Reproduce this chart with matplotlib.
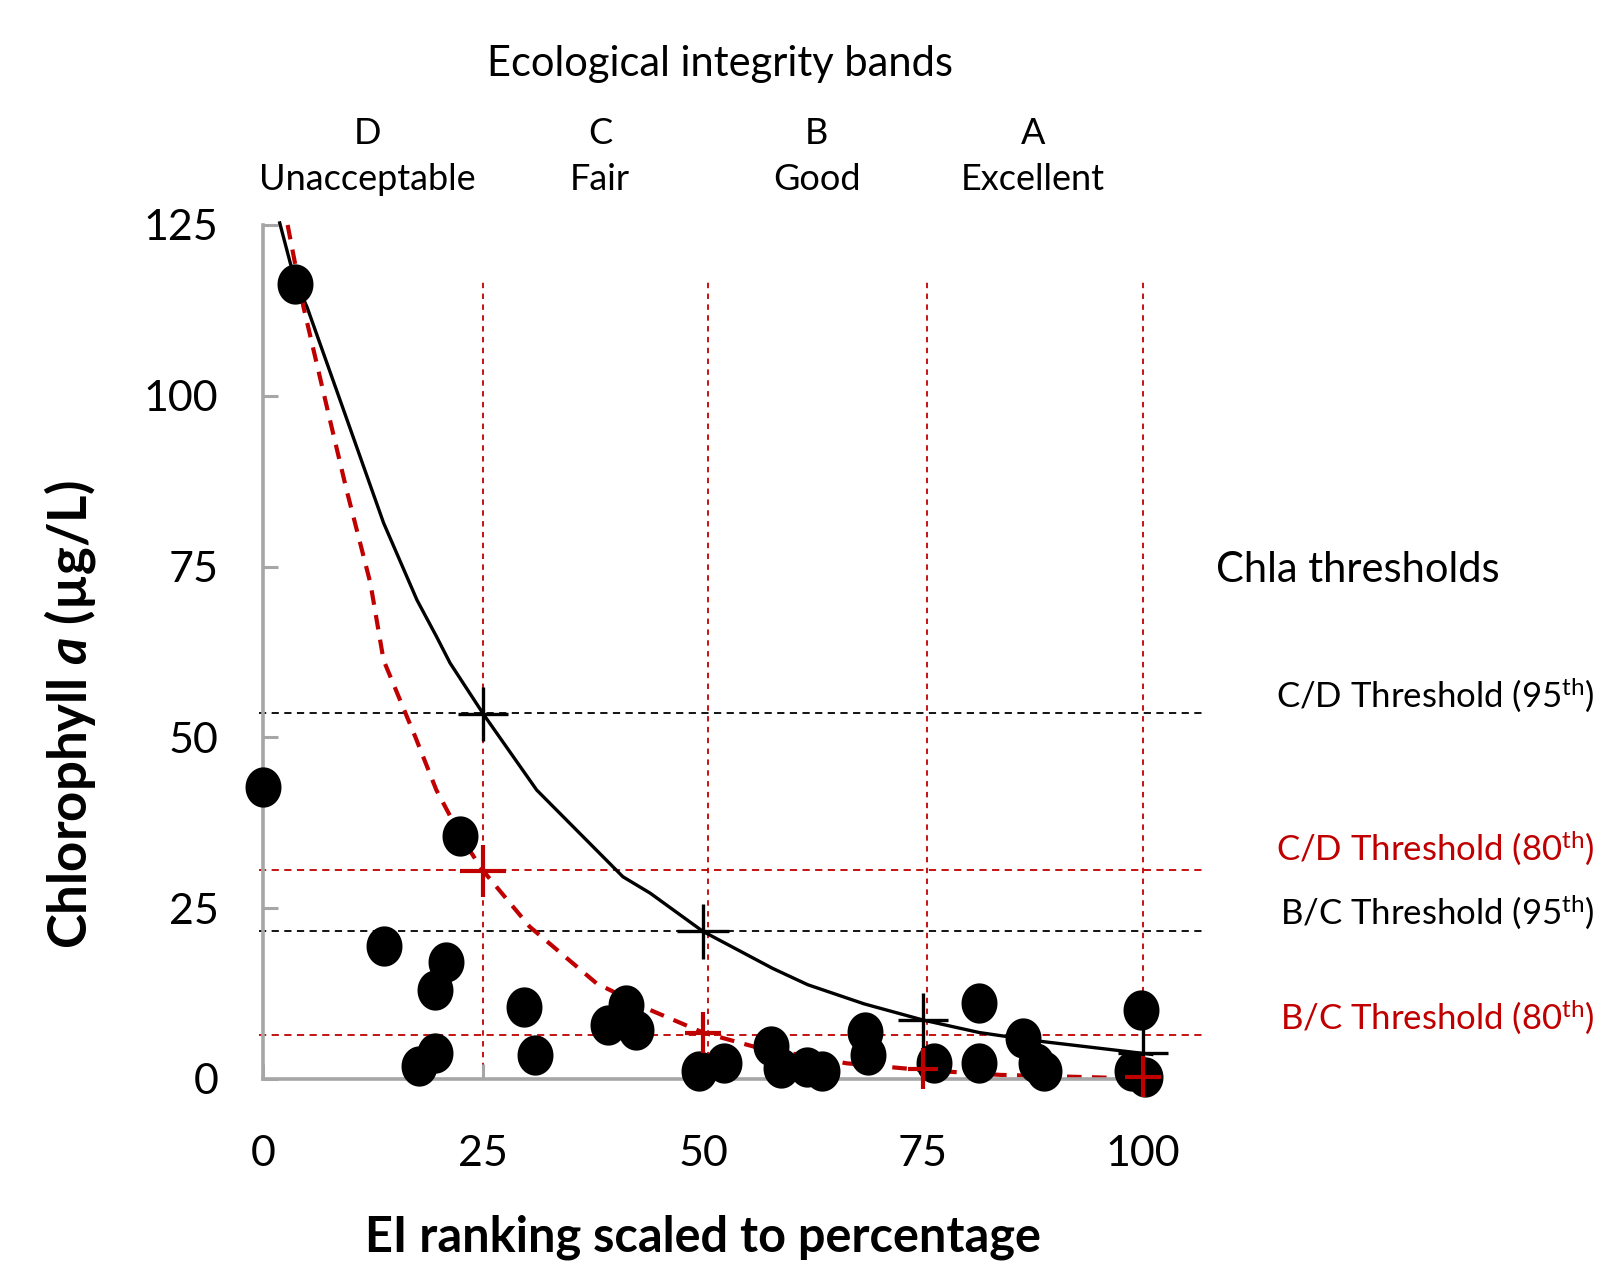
import matplotlib
matplotlib.use("Agg")
import matplotlib.pyplot as plt
import matplotlib.transforms as mtransforms
import numpy as np
from matplotlib.path import Path

# ────────── Data ──────────
# individual sites: EI ranking (%) vs chlorophyll a
ei_pct = [3.6, 0.0, 22.4, 13.8, 20.8, 19.5, 17.7, 19.5, 29.7, 30.9,
          41.2, 39.2, 42.4, 49.5, 52.4, 57.7, 58.9, 61.8, 63.5, 68.4,
          68.7, 76.3, 81.4, 81.4, 86.4, 87.8, 88.8, 99.8, 98.8, 100.2]
chla = [116.4, 42.7, 35.5, 19.5, 17.1, 13.1, 1.9, 3.8, 10.5, 3.5,
        10.8, 7.9, 7.1, 1.1, 2.3, 4.8, 1.6, 1.8, 1.1, 6.9,
        3.5, 2.3, 11.1, 2.3, 6.0, 2.3, 1.1, 10.1, 1.1, 0.3]

# 95th percentile curve
q95_x = [1.9, 3.6, 5.0, 8.75, 13.7, 17.5, 19.7, 21.25, 25.1, 31.1,
         40.9, 44.0, 50.0, 57.9, 61.9, 68.3, 75.1, 81.4, 87.8, 99.0, 101.0]
q95_y = [125.3, 117.0, 113.0, 99.4, 81.4, 70.1, 64.8, 60.9, 53.3, 42.3,
         29.6, 27.2, 21.6, 16.2, 13.8, 11.0, 8.6, 6.8, 5.6, 3.9, 3.6]

# 80th percentile curve
q80_x = [2.8, 4.6, 7.6, 9.5, 12.2, 13.7, 17.3, 19.7, 22.7, 25.0,
         30.3, 37.9, 44.0, 50.0, 55.9, 66.3, 75.1, 83.8, 95.8, 100.0, 101.5]
q80_y = [125.0, 113.0, 96.5, 86.2, 72.6, 61.3, 50.1, 42.3, 35.0, 30.5,
         22.3, 14.0, 10.1, 6.8, 4.7, 2.3, 1.3, 0.6, 0.2, 0.0, 0.0]

# threshold crosses
t95_x = [25.0, 50.0, 75.0, 100.0]
t95_y = [53.4, 21.6, 8.6, 3.8]
t95_xerr = [2.8, 2.9, 2.8, 2.8]
t95_yerr = [4.0, 4.0, 4.0, 4.0]

t80_x = [25.0, 50.0, 75.0, 100.0]
t80_y = [30.5, 6.8, 1.5, 0.3]
t80_xerr = [2.6, 2.0, 1.7, 2.0]
t80_yerr = [3.8, 3.0, 3.0, 3.0]

# threshold lines
hline_levels = [53.5, 30.6, 21.6, 6.5]
band_edges = [25.0, 50.6, 75.4, 100.0]
band_letters = ["D", "C", "B", "A"]
band_names = ["Unacceptable", "Fair", "Good", "Excellent"]
band_mid = [11.9, 38.3, 62.9, 87.5]

thr_labels = ["C/D Threshold (95$^{\\mathrm{th}}$)",
              "C/D Threshold (80$^{\\mathrm{th}}$)",
              "B/C Threshold (95$^{\\mathrm{th}}$)",
              "B/C Threshold (80$^{\\mathrm{th}}$)"]

RED = "#c00000"
GREY = "#a6a6a6"
line_colors = ["black", RED, "black", RED]

# ────────── Fonts ──────────
plt.rcParams["font.family"] = ["Lato", "DejaVu Sans"]
plt.rcParams["mathtext.fontset"] = "custom"
plt.rcParams["mathtext.rm"] = "Lato"
plt.rcParams["mathtext.it"] = "Lato:italic:bold"
plt.rcParams["mathtext.bf"] = "Lato:bold"

W, H = 1603, 1266
fig = plt.figure(figsize=(W / 100, H / 100), dpi=100)
ax = fig.add_axes([263 / W, 1 - 1079 / H, (1143 - 263) / W, (1079 - 225) / H])
ax.set_xlim(0, 100)
ax.set_ylim(0, 125)

# ────────── Guide lines ──────────
for lvl, c in zip(hline_levels, line_colors):
    ax.plot([-0.5, 107], [lvl, lvl], color=c, lw=1.3, ls=(0, (4, 3)),
            clip_on=False, zorder=1)
for e in band_edges:
    ax.plot([e, e], [0, 117], color=RED, lw=1.3, ls=(0, (3, 3)),
            clip_on=False, zorder=1)

# ────────── Curves ──────────
ax.plot(q95_x, q95_y, color="black", lw=2.4, clip_on=False, zorder=2)
ax.plot(q80_x, q80_y, color=RED, lw=3.0, ls=(0, (3.5, 2.5)),
        clip_on=False, zorder=2)

ax.errorbar(t95_x, t95_y, xerr=t95_xerr, yerr=t95_yerr, fmt="none",
            ecolor="black", elinewidth=2.4, capsize=0, clip_on=False, zorder=3)

# ────────── Points (slightly tall ellipses) ──────────
th = np.linspace(0, 2 * np.pi, 60)
ell = Path(np.column_stack([np.cos(th) / 1.12, np.sin(th)]), closed=True)
ax.plot(ei_pct, chla, ls="none", marker=ell, ms=29, color="black",
        mec="none", clip_on=False, zorder=4)

ax.errorbar(t80_x, t80_y, xerr=t80_xerr, yerr=t80_yerr, fmt="none",
            ecolor=RED, elinewidth=3.0, capsize=0, clip_on=False, zorder=5)

# ────────── Axes styling ──────────
for s in ["top", "right"]:
    ax.spines[s].set_visible(False)
for s in ["left", "bottom"]:
    ax.spines[s].set_color(GREY)
    ax.spines[s].set_linewidth(2.6)
ax.set_xticks([0, 25, 50, 75, 100])
ax.set_yticks([0, 25, 50, 75, 100, 125])
ax.tick_params(axis="both", direction="in", length=11, width=2.2,
               color=GREY, labelsize=31)
ax.tick_params(axis="x", pad=40)
ax.tick_params(axis="y", pad=32)

ax.set_xlabel("EI ranking scaled to percentage", fontsize=35,
              fontweight="bold", labelpad=30)
fig.text(70 / W, 1 - 715 / H, "Chlorophyll $\\mathit{a}$ (µg/L)",
         rotation=90, ha="center", va="center", fontsize=38,
         fontweight="bold")

# ────────── Band labels ──────────
fig.text(720 / W, 1 - 64 / H, "Ecological integrity bands",
         ha="center", va="center", fontsize=30)
btrans = mtransforms.blended_transform_factory(ax.transData, fig.transFigure)
for m, l, n in zip(band_mid, band_letters, band_names):
    fig.text(m, 1 - 133 / H, l, transform=btrans, ha="center",
             va="center", fontsize=26)
    fig.text(m, 1 - 179 / H, n, transform=btrans, ha="center",
             va="center", fontsize=26)

# ────────── Threshold labels ──────────
fig.text(1216 / W, 1 - 570 / H, "Chla thresholds", ha="left",
         va="center", fontsize=30)
for lab, c, yp in zip(thr_labels, line_colors, [695, 848, 912, 1017]):
    fig.text(1595 / W, 1 - yp / H, lab, color=c, ha="right",
             va="center", fontsize=25)

fig.savefig("out.png", dpi=100)
